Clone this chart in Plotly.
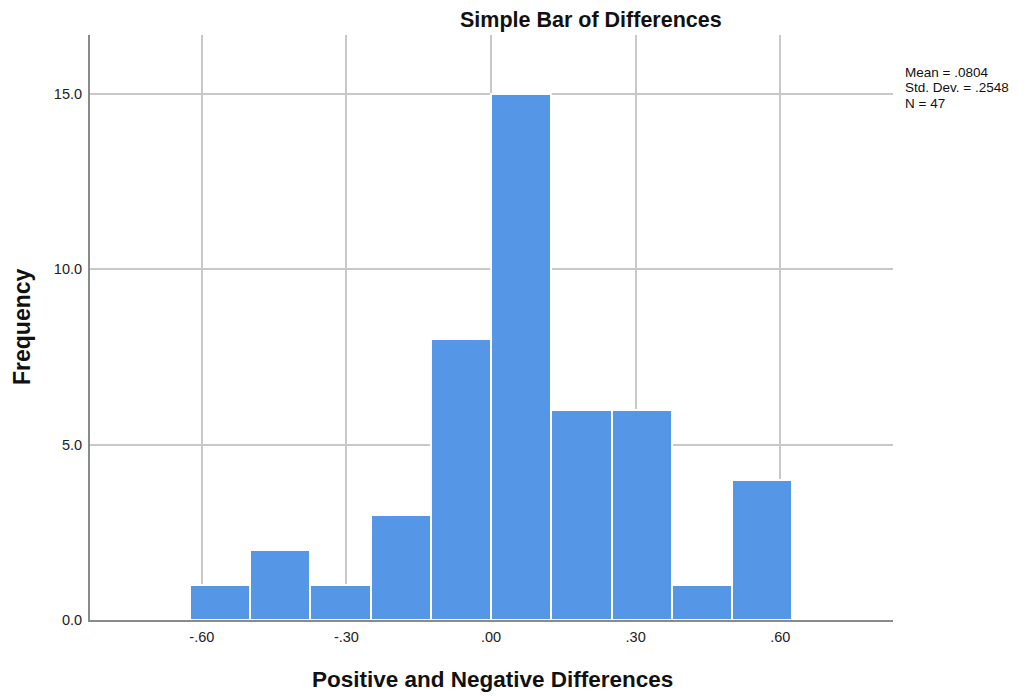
import plotly.graph_objects as go

# Histogram of the differences: bin width .125, from -.625 to .625
bin_width = 0.125
bin_starts = [-0.625, -0.5, -0.375, -0.25, -0.125, 0.0, 0.125, 0.25, 0.375, 0.5]
counts = [1, 2, 1, 3, 8, 15, 6, 6, 1, 4]

x_tick_values = [-0.6, -0.3, 0.0, 0.3, 0.6]
x_tick_labels = ["-.60", "-.30", ".00", ".30", ".60"]
y_tick_values = [0, 5, 10, 15]
y_tick_labels = ["0.0", "5.0", "10.0", "15.0"]

stats_lines = ["Mean = .0804", "Std. Dev. = .2548", "N = 47"]

centers = [s + bin_width / 2 for s in bin_starts]

W, H = 1028, 696
M_L, M_R, M_T, M_B = 90, 135, 35, 76
PLOT_W = W - M_L - M_R
PLOT_H = H - M_T - M_B

fig = go.Figure()
fig.add_trace(go.Bar(
    x=centers,
    y=counts,
    width=[bin_width] * len(counts),
    marker=dict(color="#5596E6", line=dict(color="white", width=2)),
    hoverinfo="x+y",
    showlegend=False,
))

font_family = "Liberation Sans, Arial, sans-serif"

axis_style = dict(
    tickfont=dict(size=14.5, color="#222"),
    showgrid=True,
    gridcolor="#c8c8c8",
    gridwidth=1.5,
    zeroline=False,
    showline=True,
    linecolor="#8a8a8a",
    linewidth=2,
    ticks="",
    automargin=False,
)

fig.update_layout(
    width=W,
    height=H,
    margin=dict(l=M_L, r=M_R, t=M_T, b=M_B),
    paper_bgcolor="white",
    plot_bgcolor="white",
    font=dict(family=font_family, color="#222"),
    bargap=0,
    xaxis=dict(range=[-0.832, 0.834], tickvals=x_tick_values,
               ticktext=x_tick_labels, ticklabelstandoff=3, **axis_style),
    yaxis=dict(range=[0, 16.68], tickvals=y_tick_values,
               ticktext=y_tick_labels, ticklabelstandoff=3, **axis_style),
)


def page_text(text, px, py, size, angle=0, xanchor="center"):
    # px, py are page pixel positions; paper coords span the plot area
    fig.add_annotation(
        x=(px - M_L) / PLOT_W, y=1 - (py - M_T) / PLOT_H,
        xref="paper", yref="paper",
        text=text, showarrow=False, textangle=angle,
        xanchor=xanchor, yanchor="middle", align="left",
        font=dict(size=size, color="#111"),
    )


# chart title and axis titles
page_text("<b>Simple Bar of Differences</b>", 591, 20, 21.5)
page_text("<b>Positive and Negative Differences</b>", 492, 679, 22.5)
page_text("<b>Frequency</b>", 22, 327, 23, angle=-90)

# summary statistics beside the plot
for i, line in enumerate(stats_lines):
    page_text(line, 903, 72 + 15.5 * i, 13.5, xanchor="left")

fig.write_html("out.html")
